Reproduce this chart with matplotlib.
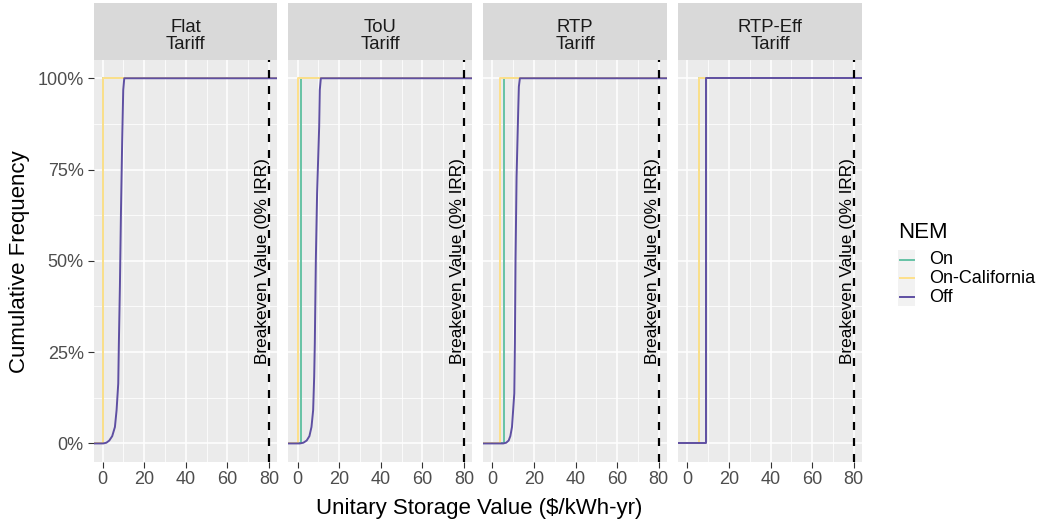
import matplotlib
matplotlib.use("Agg")
from matplotlib import pyplot as plt
from matplotlib.patches import Rectangle
from matplotlib.lines import Line2D
from matplotlib.ticker import MultipleLocator, FuncFormatter

plt.rcParams['font.family'] = ['Liberation Sans', 'DejaVu Sans']

# ---- data ----
tariffs = ["Flat\nTariff", "ToU\nTariff", "RTP\nTariff", "RTP-Eff\nTariff"]
nem_levels = ["On", "On-California", "Off"]
nem_colors = ["#66C2A5", "#FEE08B", "#5E4FA2"]

# single-value ECDFs (all sites share one value)
on_value = [0.2, 1.6, 5.7, 5.6]
on_cal_value = [0.0, 0.0, 3.6, 5.6]

# Off: storage value ($/kWh-yr) vs cumulative frequency (dense ECDF, traced)
off_x_flat = [0.3, 1.8, 3.2, 4.6, 5.9, 6.7, 7.5, 7.8, 8.3, 8.8, 9.4, 9.9, 10.4]
off_f_flat = [0.0, 0.002, 0.008, 0.02, 0.045, 0.091, 0.164, 0.274, 0.43, 0.63, 0.83, 0.968, 1.0]
off_x_tou = [1.1, 2.8, 4.4, 5.7, 6.7, 7.5, 8.0, 8.3, 8.8, 9.4, 10.4, 10.7, 11.2]
off_f_tou = [0.0, 0.002, 0.008, 0.02, 0.045, 0.091, 0.183, 0.274, 0.502, 0.685, 0.868, 0.968, 1.0]
off_x_rtp = [5.2, 6.6, 7.8, 8.6, 9.4, 10.5, 10.8, 11.1, 11.6, 12.4, 12.7, 13.2]
off_f_rtp = [0.0, 0.002, 0.008, 0.02, 0.045, 0.137, 0.274, 0.502, 0.73, 0.913, 0.977, 1.0]
off_x_eff = [8.9, 8.9]
off_f_eff = [0.0, 1.0]

off_x = [off_x_flat, off_x_tou, off_x_rtp, off_x_eff]
off_f = [off_f_flat, off_f_tou, off_f_rtp, off_f_eff]

breakeven = 80
breakeven_label = "Breakeven Value (0% IRR)"

# ---- layout (pixels) ----
W, H = 1043, 523
fig = plt.figure(figsize=(W / 100, H / 100), dpi=100)


def rect(left, top, width, height):
    return [left / W, 1 - (top + height) / H, width / W, height / H]


panel_w, panel_step = 183.8, 194.9
xlim = (-4.4, 84.0)

for i, tariff in enumerate(tariffs):
    left = 93.5 + i * panel_step
    ax = fig.add_axes(rect(left, 60, panel_w, 401.7))
    ax.set_facecolor("#EBEBEB")
    ax.set_xlim(*xlim)
    ax.set_ylim(-0.05, 1.05)
    for s in ax.spines.values():
        s.set_visible(False)
    ax.xaxis.set_major_locator(MultipleLocator(20))
    ax.xaxis.set_minor_locator(MultipleLocator(10))
    ax.yaxis.set_major_locator(MultipleLocator(0.25))
    ax.yaxis.set_minor_locator(MultipleLocator(0.125))
    ax.yaxis.set_major_formatter(FuncFormatter(lambda v, p: f"{v*100:.0f}%"))
    ax.grid(which="major", color="white", lw=1.1)
    ax.grid(which="minor", color="white", lw=0.55)
    ax.set_axisbelow(True)
    ax.tick_params(which="minor", length=0)
    ax.tick_params(which="major", length=4, width=0.8, color="#333333",
                   labelsize=13, labelcolor="#4D4D4D", pad=3)
    if i > 0:
        ax.tick_params(axis="y", left=False, labelleft=False)

    lo, hi = ax.get_xlim()
    # On, On-California: one-step ECDFs
    for v, col in [(on_value[i], nem_colors[0]), (on_cal_value[i], nem_colors[1])]:
        ax.step([lo, v, hi], [0, 1, 1], where="post", color=col, lw=1.4)
    # Off
    ax.plot([lo] + off_x[i] + [hi], [0] + off_f[i] + [1],
            color=nem_colors[2], lw=1.4)

    ax.axvline(breakeven, color="black", lw=1.6, linestyle=(0, (3.6, 3.6)))
    ax.text(breakeven - 3.2, 0.5, breakeven_label, rotation=90,
            ha="center", va="center", fontsize=12.4, color="black")

    # facet strip
    sax = fig.add_axes(rect(left, 3.3, panel_w, 56.7))
    sax.set_facecolor("#D9D9D9")
    sax.set_xticks([])
    sax.set_yticks([])
    for s in sax.spines.values():
        s.set_visible(False)
    sax.text(0.5, 0.42, tariff, ha="center", va="center", fontsize=13.3,
             color="#1A1A1A", linespacing=1.03, transform=sax.transAxes)

fig.text(479 / W, 1 - 514 / H, "Unitary Storage Value ($/kWh-yr)",
         ha="center", va="baseline", fontsize=16)
fig.text(20 / W, 1 - 261.7 / H, "Cumulative Frequency", rotation=90,
         ha="center", va="center", fontsize=16)

# legend drawn by hand in a pixel-space axes
lax = fig.add_axes([0, 0, 1, 1])
lax.set_xlim(0, W)
lax.set_ylim(H, 0)
lax.axis("off")
lax.text(898, 238.3, "NEM", ha="left", va="baseline", fontsize=16)
key_centers = [259.6, 278.3, 297.0]
for name, col, yc in zip(nem_levels, nem_colors, key_centers):
    lax.add_patch(Rectangle((898.3, yc - 9.2), 17, 18.4, facecolor="#F2F2F2",
                            edgecolor="none"))
    lax.add_line(Line2D([899.5, 914], [yc, yc], color=col, lw=1.4))
    lax.text(929, yc, name, ha="left", va="center", fontsize=13)

fig.savefig("out.png", dpi=100)
